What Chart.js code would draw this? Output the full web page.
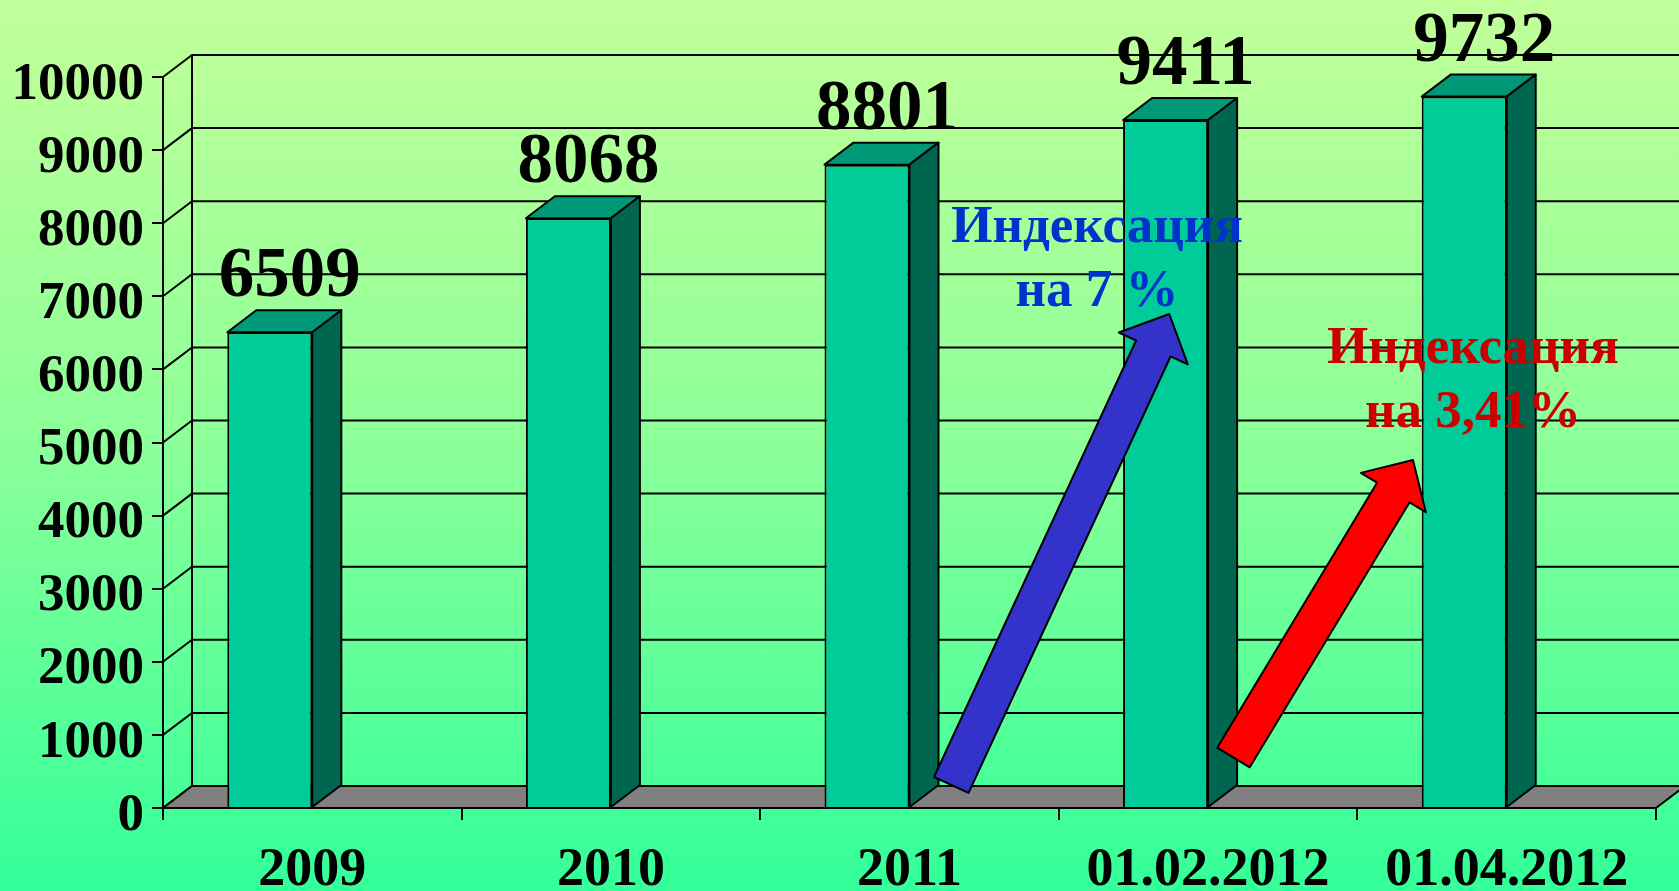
<!DOCTYPE html>
<html lang="ru">
<head>
<meta charset="utf-8">
<title>Индексация</title>
<script src="https://cdn.jsdelivr.net/npm/chart.js@4.4.1/dist/chart.umd.min.js"></script>
<style>
    html, body { margin: 0; padding: 0; overflow: hidden; }
    body {
        width: 1679px;
        height: 891px;
        background: linear-gradient(to bottom, #c2ff99 0%, #8cff99 50%, #33ff99 100%);
    }
    canvas { display: block; }
</style>
</head>
<body>
<canvas id="chart" width="1679" height="891"></canvas>
<script>
// Данные
const categories = ['2009', '2010', '2011', '01.02.2012', '01.04.2012'];
const values = [6509, 8068, 8801, 9411, 9732];
const yMin = 0;
const yMax = 10000;
const yStep = 1000;

const noteLines = [['Индексация', 'на 7 %'], ['Индексация', 'на 3,41%']];

const SERIF = '"Times New Roman", "Liberation Serif", serif';
const DEPTH_X = 29;
const DEPTH_Y = 22;

const poly = (ctx, pts, fill) => {
    ctx.beginPath();
    ctx.moveTo(pts[0][0], pts[0][1]);
    pts.slice(1).forEach(p => ctx.lineTo(p[0], p[1]));
    ctx.closePath();
    if (fill) {
        ctx.fillStyle = fill;
        ctx.fill();
    }
    ctx.stroke();
};

// задняя стенка, левая стенка и пол
const wallPlugin = {
    id: 'wall',
    beforeDatasetsDraw(chart) {
        const { ctx, chartArea: a, scales: { y } } = chart;
        ctx.save();
        ctx.strokeStyle = '#000';
        ctx.lineWidth = 2;
        y.ticks.forEach(t => {
            const yf = y.getPixelForValue(t.value);
            const yb = yf - DEPTH_Y;
            ctx.beginPath();
            ctx.moveTo(a.left, yf);
            ctx.lineTo(a.left + DEPTH_X, yb);
            ctx.lineTo(chart.width + 5, yb);
            ctx.stroke();
        });
        ctx.beginPath();
        ctx.moveTo(a.left + DEPTH_X, a.top - DEPTH_Y);
        ctx.lineTo(a.left + DEPTH_X, a.bottom - DEPTH_Y);
        ctx.stroke();

        poly(ctx, [
            [a.left, a.bottom],
            [a.left + DEPTH_X, a.bottom - DEPTH_Y],
            [a.right + DEPTH_X, a.bottom - DEPTH_Y],
            [a.right, a.bottom]
        ], '#808080');
        ctx.restore();
    }
};

// объём столбцов, подписи, стрелки
const extrasPlugin = {
    id: 'extras',
    afterDatasetsDraw(chart, args, opts) {
        const { ctx, scales: { x, y } } = chart;
        const meta = chart.getDatasetMeta(0);
        ctx.save();
        ctx.strokeStyle = '#000';
        ctx.lineWidth = 2;
        ctx.lineJoin = 'round';

        meta.data.forEach((bar, i) => {
            const p = bar.getProps(['x', 'y', 'base', 'width'], true);
            const l = p.x - p.width / 2;
            const r = p.x + p.width / 2;
            poly(ctx, [[l, p.y], [l + DEPTH_X, p.y - DEPTH_Y], [r + DEPTH_X, p.y - DEPTH_Y], [r, p.y]], '#009977');
            poly(ctx, [[r, p.y], [r + DEPTH_X, p.y - DEPTH_Y], [r + DEPTH_X, p.base - DEPTH_Y], [r, p.base]], '#006650');

            ctx.fillStyle = '#000';
            ctx.font = 'bold 71px ' + SERIF;
            ctx.textAlign = 'center';
            ctx.textBaseline = 'alphabetic';
            ctx.fillText(String(values[i]), p.x + 20, p.y - 36);
        });

        // стрелки
        opts.arrows.forEach(arw => {
            const tx = x.getPixelForValue(arw.from[0]), ty = y.getPixelForValue(arw.from[1]);
            const px = x.getPixelForValue(arw.to[0]), py = y.getPixelForValue(arw.to[1]);
            const len = Math.hypot(px - tx, py - ty);
            const ux = (px - tx) / len, uy = (py - ty) / len;
            const nx = -uy, ny = ux;
            const bx = px - ux * 38, by = py - uy * 38;
            const w = 19, hw = 38;
            poly(ctx, [
                [tx + nx * w, ty + ny * w],
                [bx + nx * w, by + ny * w],
                [bx + nx * hw, by + ny * hw],
                [px, py],
                [bx - nx * hw, by - ny * hw],
                [bx - nx * w, by - ny * w],
                [tx - nx * w, ty - ny * w]
            ], arw.color);
        });

        // надписи
        ctx.font = 'bold 53px ' + SERIF;
        ctx.textAlign = 'center';
        ctx.textBaseline = 'alphabetic';
        opts.notes.forEach((n, k) => {
            const cx = x.getPixelForValue(n.at[0]);
            const cy = y.getPixelForValue(n.at[1]);
            ctx.fillStyle = n.color;
            noteLines[k].forEach((line, j) => ctx.fillText(line, cx, cy + j * 64));
        });
        ctx.restore();
    }
};

new Chart(document.getElementById('chart'), {
    type: 'bar',
    data: {
        labels: categories,
        datasets: [{
            data: values,
            backgroundColor: '#00cc99',
            borderColor: '#000',
            borderWidth: 2,
            borderSkipped: 'bottom',
            categoryPercentage: 0.5693,
            barPercentage: 1,
            clip: false
        }, {
            // пустая серия: смещает столбцы влево от центра категории
            data: categories.map(() => null),
            categoryPercentage: 0.5693,
            barPercentage: 1
        }]
    },
    options: {
        responsive: false,
        animation: false,
        events: [],
        layout: { padding: { top: 77, right: 23, bottom: 0, left: 0 } },
        plugins: {
            legend: { display: false },
            tooltip: { enabled: false },
            extras: {
                arrows: [
                    { from: [2.14, 315], to: [2.87, 6758], color: '#3333cc' },
                    { from: [3.085, 691], to: [3.686, 4761], color: '#ff0000' }
                ],
                notes: [
                    { at: [2.628, 7743], color: '#0033cc' },
                    { at: [3.887, 6088], color: '#cc0000' }
                ]
            }
        },
        scales: {
            x: {
                grid: { drawOnChartArea: false, drawTicks: true, tickLength: 12, color: '#000', lineWidth: 2, offset: true },
                border: { display: true, color: '#000', width: 2 },
                ticks: { font: { family: SERIF, size: 54, weight: 'bold' }, color: '#000', padding: 19, maxRotation: 0, autoSkip: false },
                afterFit: s => { s.height = 83; }
            },
            y: {
                min: yMin,
                max: yMax,
                grid: { drawOnChartArea: false, drawTicks: true, tickLength: 11, color: '#000', lineWidth: 2 },
                border: { display: true, color: '#000', width: 2 },
                ticks: {
                    stepSize: yStep,
                    font: { family: SERIF, size: 53, weight: 'bold' },
                    color: '#000',
                    padding: 8,
                    labelOffset: 8,
                    callback: v => String(v)
                },
                afterFit: s => { s.width = 163; }
            }
        }
    },
    plugins: [wallPlugin, extrasPlugin]
});
</script>
</body>
</html>
